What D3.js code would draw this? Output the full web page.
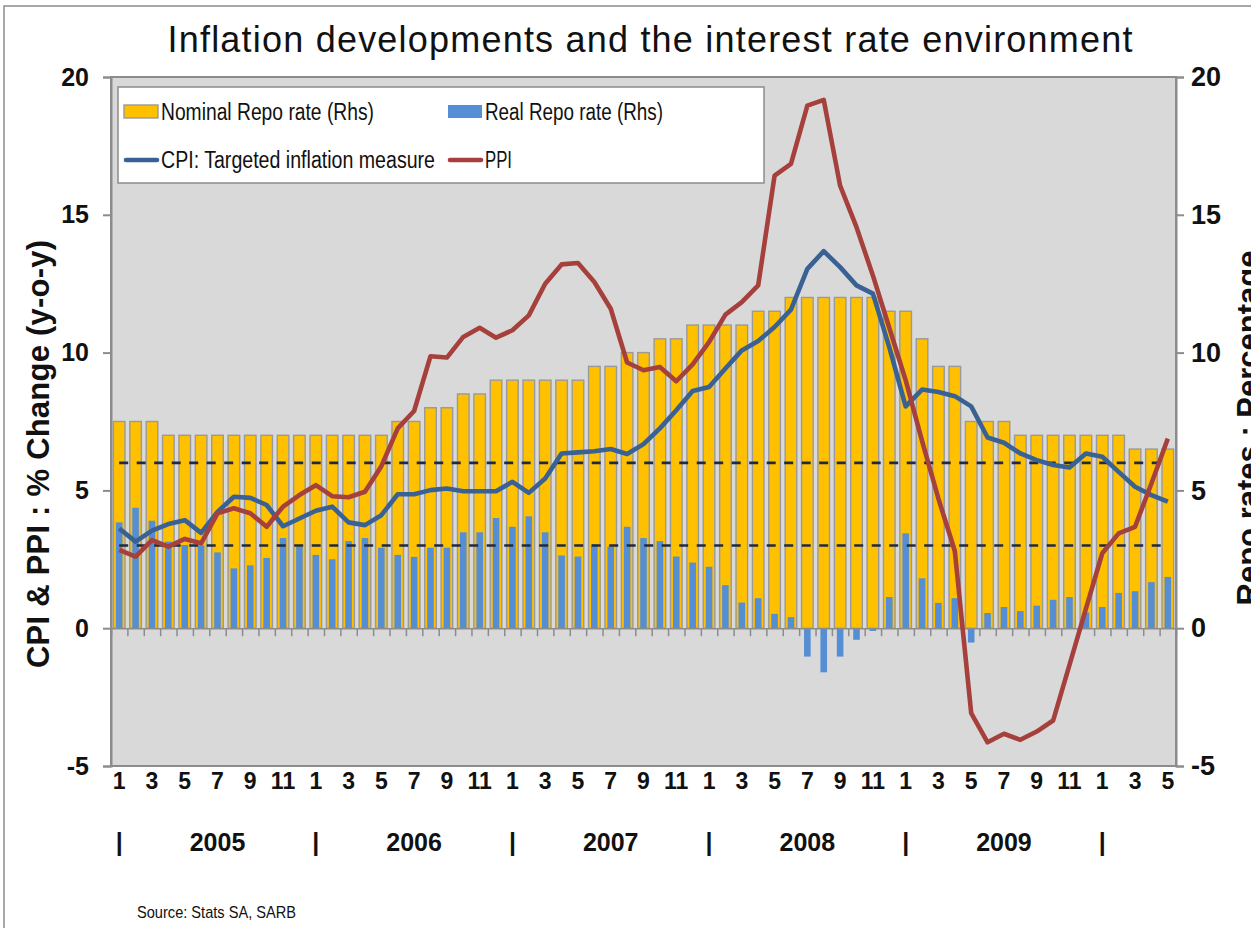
<!DOCTYPE html>
<html>
<head>
<meta charset="utf-8">
<script src="https://cdn.jsdelivr.net/npm/d3@7"></script>
<style>
  body { margin: 0; background: #fff; }
  svg text { font-family: "Liberation Sans", Arial, sans-serif; fill: #111; }
  .narrow { font-family: "Liberation Sans Narrow", "Arial Narrow", "Liberation Sans", sans-serif; }
</style>
</head>
<body>
<div id="chart-area"></div>
<script>
const WIDTH = 1251;
const HEIGHT = 928;
const PLOT = { left: 111, right: 1176, top: 77, bottom: 766 };

// categories: Jan 2005 .. May 2010
const years = ['2005', '2006', '2007', '2008', '2009', '2010'];
const months = years.flatMap(y => d3.range(1, 13).map(m => `${y}-${m}`)).slice(0, 65);
const monthTickLabels = ['1', '3', '5', '7', '9', '11'];
const yearLabels = ['2005', '2006', '2007', '2008', '2009'];
const valueTicks = [-5, 0, 5, 10, 15, 20];
const targetRange = [3, 6];

// Rhs series
const nominalRepo = [
  7.5, 7.5, 7.5, 7, 7, 7, 7, 7, 7, 7, 7, 7,
  7, 7, 7, 7, 7, 7.5, 7.5, 8, 8, 8.5, 8.5, 9,
  9, 9, 9, 9, 9, 9.5, 9.5, 10, 10, 10.5, 10.5, 11,
  11, 11, 11, 11.5, 11.5, 12, 12, 12, 12, 12, 12, 11.5,
  11.5, 10.5, 9.5, 9.5, 7.5, 7.5, 7.5, 7, 7, 7, 7, 7,
  7, 7, 6.5, 6.5, 6.5
];
const realRepo = [
  3.84, 4.37, 3.9, 3.14, 3.02, 3.0, 2.75, 2.17, 2.28, 2.55, 3.27, 2.96,
  2.66, 2.5, 3.16, 3.27, 2.92, 2.66, 2.59, 2.92, 2.92, 3.48, 3.48, 4.0,
  3.68, 4.06, 3.48, 2.64, 2.6, 3.04, 2.96, 3.68, 3.27, 3.16, 2.6, 2.38,
  2.23, 1.56, 0.93, 1.09, 0.52, 0.4, -1.03, -1.6, -1.03, -0.42, -0.1, 1.13,
  3.44, 1.81, 0.92, 1.09, -0.52, 0.55, 0.77, 0.62, 0.82, 1.03, 1.13, 0.57,
  0.77, 1.28, 1.34, 1.67, 1.86
];

// Lhs series
const cpi = [
  3.62, 3.14, 3.54, 3.78, 3.92, 3.46, 4.22, 4.77, 4.73, 4.47, 3.7, 3.98,
  4.26, 4.41, 3.84, 3.74, 4.1, 4.86, 4.86, 5.01, 5.07, 4.97, 4.97, 4.97,
  5.31, 4.91, 5.43, 6.34, 6.38, 6.42, 6.5, 6.32, 6.68, 7.25, 7.91, 8.61,
  8.75, 9.42, 10.08, 10.42, 10.93, 11.56, 13.04, 13.68, 13.1, 12.44, 12.14, 10.2,
  8.05, 8.66, 8.57, 8.42, 8.05, 6.92, 6.73, 6.34, 6.1, 5.92, 5.83, 6.34,
  6.22, 5.67, 5.13, 4.83, 4.59
];
const ppi = [
  2.84, 2.6, 3.2, 2.96, 3.24, 3.08, 4.17, 4.35, 4.17, 3.68, 4.41, 4.83,
  5.19, 4.79, 4.75, 4.95, 5.88, 7.25, 7.88, 9.87, 9.82, 10.57, 10.9, 10.54,
  10.81, 11.35, 12.5, 13.2, 13.25, 12.56, 11.59, 9.64, 9.36, 9.48, 8.96, 9.57,
  10.38, 11.38, 11.83, 12.44, 16.42, 16.85, 18.96, 19.17, 16.06, 14.55, 12.8, 10.9,
  9.0, 6.8, 4.7, 2.8, -3.08, -4.14, -3.83, -4.05, -3.75, -3.35, -1.33, 0.7,
  2.72, 3.44, 3.68, 5.25, 6.88
];

const COLORS = {
  plot: '#d9d9d9',
  axis: '#8c8c8c',
  nominal: '#ffc000',
  real: '#558ed5',
  cpi: '#3a6194',
  ppi: '#a6403c',
  target: '#1f2a44'
};

main();

function main() {
  const svg = d3.select('#chart-area').append('svg')
    .attr('width', WIDTH)
    .attr('height', HEIGHT);

  // outer chart frame
  svg.append('rect')
    .attr('x', 4).attr('y', 6)
    .attr('width', 1300).attr('height', 1000)
    .attr('fill', 'none')
    .attr('stroke', COLORS.axis)
    .attr('stroke-width', 1.5);

  svg.append('text')
    .attr('x', 650)
    .attr('y', 52)
    .attr('text-anchor', 'middle')
    .attr('font-size', 36)
    .attr('textLength', 965)
    .attr('lengthAdjust', 'spacing')
    .attr('fill', '#222')
    .text('Inflation developments and the interest rate environment');

  const x = d3.scaleBand()
    .domain(months)
    .range([PLOT.left, PLOT.right]);
  const cx = m => x(m) + x.bandwidth() / 2;
  const xEdge = d3.scaleLinear().domain([0, months.length]).range([PLOT.left, PLOT.right]);
  const y = d3.scaleLinear().domain([-5, 20]).range([PLOT.bottom, PLOT.top]);
  const yR = d3.scaleLinear().domain([-5, 20]).range([PLOT.bottom, PLOT.top]);

  svg.append('rect')
    .attr('x', PLOT.left).attr('y', PLOT.top)
    .attr('width', PLOT.right - PLOT.left)
    .attr('height', PLOT.bottom - PLOT.top)
    .attr('fill', COLORS.plot)
    .attr('stroke', COLORS.axis)
    .attr('stroke-width', 2);

  // nominal repo bars
  svg.append('g').selectAll('rect')
    .data(nominalRepo)
    .enter().append('rect')
    .attr('x', (d, i) => cx(months[i]) - 5.8)
    .attr('y', d => yR(d))
    .attr('width', 11.6)
    .attr('height', d => yR(0) - yR(d))
    .attr('fill', COLORS.nominal)
    .attr('stroke', '#9a9a9a')
    .attr('stroke-width', 1.4);

  // real repo bars
  svg.append('g').selectAll('rect')
    .data(realRepo)
    .enter().append('rect')
    .attr('x', (d, i) => cx(months[i]) - 3.3)
    .attr('y', d => yR(Math.max(d, 0)))
    .attr('width', 6.6)
    .attr('height', d => Math.abs(yR(d) - yR(0)))
    .attr('fill', COLORS.real);

  // zero line with month boundary ticks
  const zeroAxis = d3.axisBottom(xEdge)
    .tickValues(d3.range(0, months.length + 1))
    .tickFormat('')
    .tickSizeInner(8)
    .tickSizeOuter(0);
  const gz = svg.append('g')
    .attr('transform', `translate(0, ${ y(0) })`)
    .call(zeroAxis);
  gz.selectAll('path, line').attr('stroke', COLORS.axis).attr('stroke-width', 1.5);

  // inflation target band
  svg.append('g').selectAll('line')
    .data(targetRange)
    .enter().append('line')
    .attr('x1', cx(months[0]))
    .attr('x2', cx(months[months.length - 1]))
    .attr('y1', d => y(d))
    .attr('y2', d => y(d))
    .attr('stroke', COLORS.target)
    .attr('stroke-width', 2.6)
    .attr('stroke-dasharray', '9,8.5');

  const line = d3.line()
    .x((d, i) => cx(months[i]))
    .y(d => y(d));

  svg.append('path')
    .datum(cpi)
    .attr('d', line)
    .attr('fill', 'none')
    .attr('stroke', COLORS.cpi)
    .attr('stroke-width', 4.6)
    .attr('stroke-linejoin', 'round');

  svg.append('path')
    .datum(ppi)
    .attr('d', line)
    .attr('fill', 'none')
    .attr('stroke', COLORS.ppi)
    .attr('stroke-width', 4.6)
    .attr('stroke-linejoin', 'round');

  // value axes
  const gl = svg.append('g')
    .attr('transform', `translate(${ PLOT.left }, 0)`)
    .call(d3.axisLeft(y).tickValues(valueTicks).tickFormat(d => `${ d }`).tickSize(8).tickPadding(14));
  const gr = svg.append('g')
    .attr('transform', `translate(${ PLOT.right }, 0)`)
    .call(d3.axisRight(yR).tickValues(valueTicks).tickFormat(d => `${ d }`).tickSize(8).tickPadding(7));
  [gl, gr].forEach(g => {
    g.selectAll('path, line').attr('stroke', COLORS.axis).attr('stroke-width', 2);
    g.selectAll('text')
      .attr('font-size', 25)
      .attr('font-weight', 'bold')
      .attr('fill', '#111');
  });
  gr.selectAll('text').attr('font-size', 27);

  // month labels
  svg.append('g').selectAll('text')
    .data(months.filter(m => monthTickLabels.includes(m.split('-')[1])))
    .enter().append('text')
    .attr('x', d => cx(d))
    .attr('y', 789)
    .attr('text-anchor', 'middle')
    .attr('font-size', 23)
    .attr('font-weight', 'bold')
    .text(d => d.split('-')[1]);

  // year separators and labels
  svg.append('g').selectAll('text')
    .data(years)
    .enter().append('text')
    .attr('x', d => cx(`${ d }-1`))
    .attr('y', 851)
    .attr('text-anchor', 'middle')
    .attr('font-size', 25)
    .attr('font-weight', 'bold')
    .text('|');
  svg.append('g').selectAll('text')
    .data(yearLabels)
    .enter().append('text')
    .attr('x', d => cx(`${ d }-7`))
    .attr('y', 851)
    .attr('text-anchor', 'middle')
    .attr('font-size', 25)
    .attr('font-weight', 'bold')
    .text(d => d);

  // axis titles
  svg.append('text')
    .attr('transform', 'translate(49, 454) rotate(-90)')
    .attr('text-anchor', 'middle')
    .attr('font-size', 31)
    .attr('font-weight', 'bold')
    .attr('textLength', 428)
    .attr('lengthAdjust', 'spacing')
    .text('CPI & PPI :  % Change (y-o-y)');
  svg.append('text')
    .attr('transform', 'translate(1259, 428) rotate(-90)')
    .attr('text-anchor', 'middle')
    .attr('font-size', 31)
    .attr('font-weight', 'bold')
    .text('Repo rates : Percentage');

  svg.append('text')
    .attr('class', 'narrow')
    .attr('x', 137)
    .attr('y', 918)
    .attr('font-size', 17)
    .attr('textLength', 159)
    .attr('lengthAdjust', 'spacingAndGlyphs')
    .attr('fill', '#222')
    .text('Source: Stats SA, SARB');

  drawLegend(svg);
}

function drawLegend(svg) {
  const g = svg.append('g');
  g.append('rect')
    .attr('x', 118).attr('y', 87)
    .attr('width', 646).attr('height', 96)
    .attr('fill', '#fff')
    .attr('stroke', COLORS.axis)
    .attr('stroke-width', 1.5);

  const items = [
    { label: 'Nominal Repo rate (Rhs)', type: 'bar', color: COLORS.nominal, x: 124, y: 112, len: 213 },
    { label: 'Real Repo rate (Rhs)', type: 'bar', color: COLORS.real, x: 448, y: 112, len: 178 },
    { label: 'CPI: Targeted inflation measure', type: 'line', color: COLORS.cpi, x: 124, y: 160, len: 274 },
    { label: 'PPI', type: 'line', color: COLORS.ppi, x: 448, y: 160, len: 27 }
  ];

  items.forEach(it => {
    if (it.type === 'bar') {
      g.append('rect')
        .attr('x', it.x).attr('y', it.y - 7)
        .attr('width', 34).attr('height', 13)
        .attr('fill', it.color)
        .attr('stroke', it.color === COLORS.nominal ? '#9a9a9a' : 'none')
        .attr('stroke-width', 1.4);
    } else {
      g.append('line')
        .attr('x1', it.x + 2).attr('x2', it.x + 33)
        .attr('y1', it.y).attr('y2', it.y)
        .attr('stroke', it.color)
        .attr('stroke-width', 4.6)
        .attr('stroke-linecap', 'round');
    }
    g.append('text')
      .attr('class', 'narrow')
      .attr('x', it.x + 37)
      .attr('y', it.y + 8)
      .attr('font-size', 23)
      .attr('textLength', it.len)
      .attr('lengthAdjust', 'spacingAndGlyphs')
      .text(it.label);
  });
}
</script>
</body>
</html>
